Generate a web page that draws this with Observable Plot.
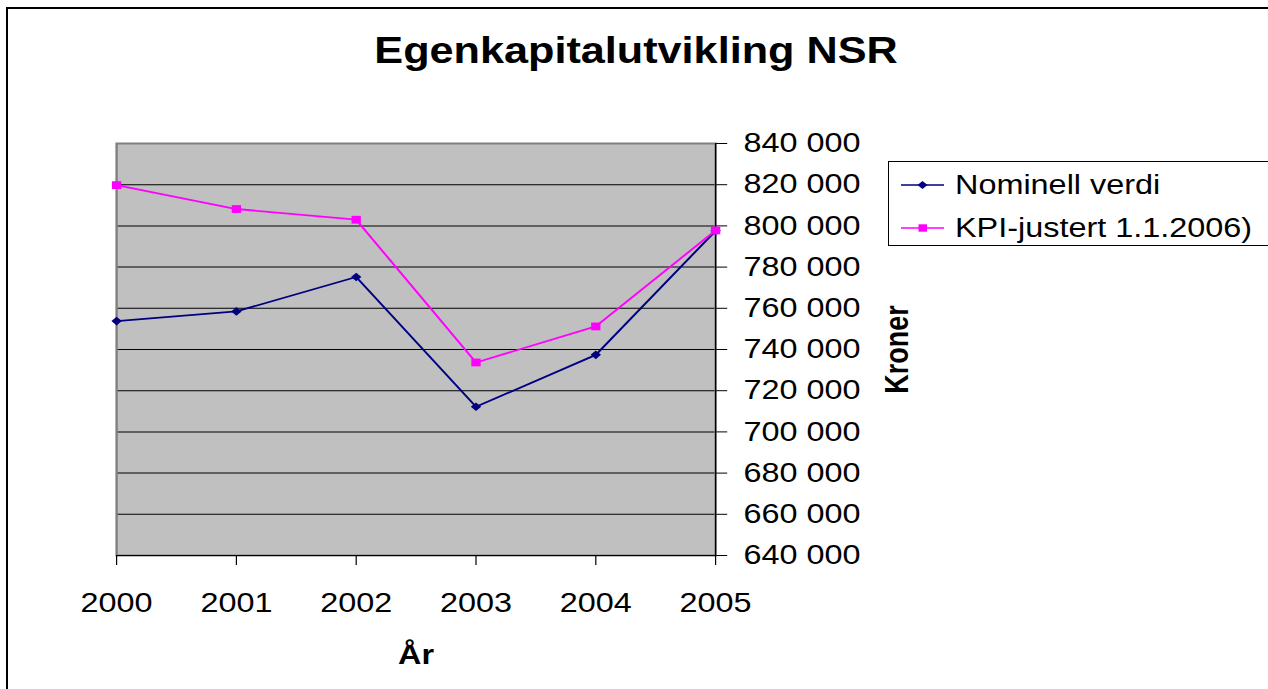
<!DOCTYPE html>
<html>
<head>
<meta charset="utf-8">
<script src="https://cdn.jsdelivr.net/npm/d3@7"></script>
<script src="https://cdn.jsdelivr.net/npm/@observablehq/plot@0.6"></script>
<style>
  html, body { margin: 0; padding: 0; background: #fff; overflow: hidden; }
  #page { position: relative; width: 1268px; height: 689px; overflow: hidden;
          font-family: "Liberation Sans", Arial, sans-serif; color: #000; background: #fff; }
  #chart { position: absolute; left: 0; top: 100px; }
  #title { position: absolute; left: 0; top: 33px; width: 1272px; text-align: center;
           font-weight: bold; font-size: 36px; line-height: 36px; white-space: nowrap;
           transform: scaleX(1.2); transform-origin: 636px 0; }
  #legend { position: absolute; left: 888px; top: 161px; width: 420px; height: 85px;
            border: 1px solid #000; box-sizing: border-box; background: #fff; }
  .sw { position: absolute; left: 12px; width: 43px; height: 16px; overflow: visible; }
  .lt { position: absolute; left: 66px; font-size: 27px; line-height: 30px; white-space: nowrap;
        transform: scaleX(1.2); transform-origin: 0 0; }
  #border { position: absolute; left: 6px; top: 7px; width: 1300px; height: 720px;
            border: 2px solid #000; box-sizing: border-box; pointer-events: none; }
</style>
</head>
<body>
<div id="page">
  <div id="chart"></div>
  <div id="title"></div>
  <div id="legend"></div>
  <div id="border"></div>
</div>
<script>
// ---- data ----
const years = [2000, 2001, 2002, 2003, 2004, 2005];
const nominell = [753800, 758500, 775200, 712200, 737400, 797600];
const kpiJustert = [819800, 808200, 803000, 733700, 751200, 797800];
const seriesNames = ["Nominell verdi", "KPI-justert 1.1.2006)"];
const seriesColors = ["#000080", "#ff00ff"];
const yTicks = [640000, 660000, 680000, 700000, 720000, 740000, 760000, 780000, 800000, 820000, 840000];
const titleText = "Egenkapitalutvikling NSR";
const xLabel = "År";
const yLabel = "Kroner";

const rows = [];
years.forEach((yr, i) => {
  rows.push({year: yr, value: nominell[i], series: seriesNames[0]});
  rows.push({year: yr, value: kpiJustert[i], series: seriesNames[1]});
});

const fmt = d => d3.format(",")(d).replace(/,/g, " ");

// horizontal stretch of the reference picture
const DISPLAY_W = 1268, H = 589;
const W = 1057;
const S = DISPLAY_W / W;

const chart = Plot.plot({
  width: W,
  height: H,
  marginLeft: 116 / S,
  marginRight: 553 / S,
  marginTop: 43,
  marginBottom: 134,
  style: {fontFamily: "'Liberation Sans', Arial, sans-serif", fontSize: "27px", color: "#000", background: "transparent", overflow: "visible"},
  x: {domain: [2000, 2005]},
  y: {domain: [640000, 840000]},
  marks: [
    Plot.frame({fill: "#c0c0c0", stroke: "none"}),
    Plot.ruleY(yTicks, {stroke: "#000", strokeWidth: 1}),
    Plot.frame({stroke: "#808080", strokeWidth: 2, fill: "none"}),
    Plot.ruleY([640000], {stroke: "#000", strokeWidth: 1}),
    Plot.ruleX([2005], {stroke: "#000", strokeWidth: 1}),
    Plot.axisX({ticks: years, tickFormat: "d", tickSize: 10, tickPadding: 27,
                label: xLabel, labelAnchor: "center", labelOffset: 108, labelArrow: "none"}),
    Plot.axisY({anchor: "right", ticks: yTicks, tickFormat: fmt, tickSize: 11 / S, tickPadding: 17 / S,
                label: yLabel, labelAnchor: "center", labelOffset: 192 / S, labelArrow: "none"}),
    Plot.line(rows.filter(d => d.series === seriesNames[0]), {x: "year", y: "value", stroke: seriesColors[0], strokeWidth: 1.8}),
    Plot.line(rows.filter(d => d.series === seriesNames[1]), {x: "year", y: "value", stroke: seriesColors[1], strokeWidth: 1.8}),
    Plot.dot(rows.filter(d => d.series === seriesNames[0]), {x: "year", y: "value", fill: seriesColors[0], stroke: "none", symbol: "diamond2", r: 3.9}),
    Plot.dot(rows.filter(d => d.series === seriesNames[1]), {x: "year", y: "value", fill: seriesColors[1], stroke: "none", symbol: "square", r: 4.4})
  ]
});

chart.querySelectorAll('[aria-label="x-axis label"], [aria-label="y-axis label"]').forEach(g => g.setAttribute("font-weight", "bold"));
chart.setAttribute("preserveAspectRatio", "none");
chart.style.width = DISPLAY_W + "px";
chart.style.height = H + "px";
chart.style.maxWidth = "none";
document.getElementById("chart").appendChild(chart);

document.getElementById("title").textContent = titleText;

// legend
const legend = d3.select("#legend");
const rowTops = [8, 51];
const swTops = [15, 58];
seriesNames.forEach((name, i) => {
  const sw = legend.append("svg").attr("class", "sw").style("top", swTops[i] + "px")
    .attr("width", 43).attr("height", 16);
  sw.append("line").attr("x1", 0).attr("x2", 43).attr("y1", 8).attr("y2", 8)
    .attr("stroke", seriesColors[i]).attr("stroke-width", 1.6);
  if (i === 0) {
    sw.append("path").attr("d", "M21.5,4 L26.5,8 L21.5,12 L16.5,8 Z").attr("fill", seriesColors[i]);
  } else {
    sw.append("rect").attr("x", 17.5).attr("y", 4.3).attr("width", 8.5).attr("height", 7.4).attr("fill", seriesColors[i]);
  }
  legend.append("div").attr("class", "lt").style("top", rowTops[i] + "px").text(name);
});
</script>
</body>
</html>
